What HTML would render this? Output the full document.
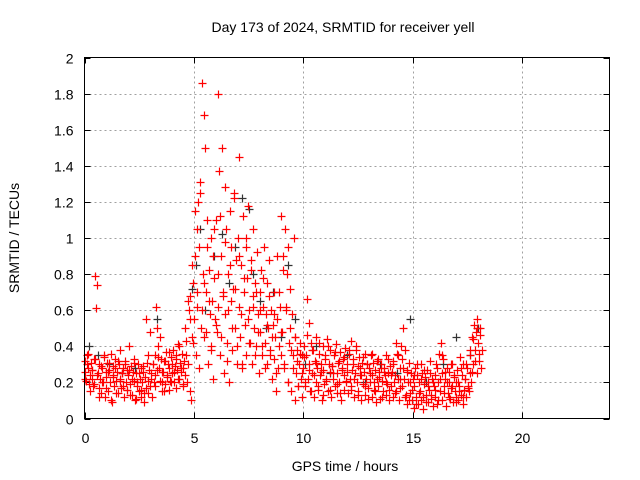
<!DOCTYPE html>
<html><head><meta charset="utf-8"><style>
body{margin:0;background:#fff}
svg{display:block;font-family:"Liberation Sans",sans-serif}
</style></head><body>
<svg id="chart" width="640" height="480">
<rect width="640" height="480" fill="#fff"/>
<text x="343" y="32" font-size="14" text-anchor="middle">Day 173 of 2024, SRMTID for receiver yell</text>
<text x="345" y="471" font-size="14" text-anchor="middle">GPS time / hours</text>
<text transform="translate(19,238) rotate(-90)" font-size="14" text-anchor="middle">SRMTID / TECUs</text>
<g id="grid"></g><g id="ticks"></g><g id="marks"></g>
<rect x="84.5" y="57.5" width="525" height="361" fill="none" stroke="#000"/>
</svg>
<script>
const xTicks=[0,5,10,15,20];
const yTicks=[0,0.2,0.4,0.6,0.8,1,1.2,1.4,1.6,1.8,2];
const redStart=0, redStep=0.04;
const redValues=[0.32,0.26,0.21,0.35,0.28,0.19,0.24,0.31,0.22,0.27,0.18,0.33,0.79,0.61,0.74,0.25,0.17,0.3,0.22,0.14,0.28,0.2,0.34,0.12,0.26,
0.23,0.31,0.15,0.27,0.2,0.36,0.09,0.24,0.29,0.18,0.33,0.21,0.26,0.14,0.3,0.22,0.38,0.17,0.25,0.28,0.12,0.32,0.2,0.27,0.16,
0.24,0.4,0.19,0.29,0.13,0.26,0.21,0.33,0.1,0.25,0.18,0.3,0.15,0.22,0.28,0.12,0.2,0.26,0.09,0.23,0.17,0.31,0.14,0.21,0.27,
0.18,0.25,0.12,0.3,0.2,0.35,0.24,0.62,0.5,0.4,0.28,0.45,0.33,0.2,0.15,0.26,0.32,0.19,0.37,0.23,0.3,0.16,0.28,0.21,0.34,
0.25,0.38,0.2,0.29,0.33,0.17,0.27,0.41,0.22,0.31,0.26,0.36,0.19,0.28,0.32,0.24,0.43,0.2,0.3,0.6,0.15,0.68,0.1,0.45,0.75,
0.55,0.9,0.35,1.05,0.62,1.2,0.28,1.31,0.5,1.86,0.8,1.68,0.45,1.5,0.7,0.95,0.3,0.82,0.58,1.0,0.4,0.65,0.22,0.78,0.55,
1.1,0.48,1.8,0.62,1.37,0.35,0.9,1.5,0.7,0.25,1.28,0.58,1.05,0.42,0.8,0.2,1.15,0.65,0.95,0.38,0.72,1.22,0.5,0.88,0.3,
1.0,0.62,1.45,0.45,0.85,0.28,1.12,0.7,0.52,0.95,0.35,0.78,1.18,0.6,0.42,0.88,0.3,0.68,1.05,0.5,0.75,0.4,0.92,0.58,0.25,
0.7,0.48,0.82,0.35,0.62,0.95,0.42,0.58,0.3,0.75,0.5,0.88,0.38,0.6,0.22,0.52,0.7,0.33,0.45,0.15,0.55,0.28,0.4,0.62,0.35,
1.12,0.48,0.9,0.28,1.05,0.6,0.8,0.2,0.95,0.42,0.72,0.15,0.58,0.35,1.0,0.1,0.45,0.25,0.38,0.18,0.3,0.42,0.22,0.35,0.12,
0.28,0.4,0.18,0.35,0.66,0.22,0.53,0.3,0.15,0.42,0.25,0.38,0.12,0.32,0.2,0.45,0.28,0.16,0.36,0.24,0.3,0.1,0.27,0.4,0.19,
0.33,0.21,0.44,0.15,0.3,0.26,0.38,0.12,0.29,0.22,0.35,0.18,0.41,0.25,0.14,0.31,0.2,0.37,0.1,0.27,0.33,0.16,0.24,0.39,0.21,
0.3,0.14,0.36,0.22,0.43,0.18,0.27,0.33,0.12,0.25,0.38,0.2,0.29,0.15,0.34,0.24,0.1,0.31,0.19,0.26,0.36,0.13,0.22,0.3,0.17,
0.28,0.2,0.35,0.12,0.24,0.31,0.16,0.27,0.09,0.22,0.33,0.18,0.26,0.11,0.3,0.21,0.15,0.28,0.24,0.13,0.35,0.19,0.25,0.1,0.29,
0.18,0.26,0.12,0.32,0.2,0.24,0.15,0.36,0.22,0.1,0.28,0.17,0.4,0.33,0.5,0.22,0.38,0.13,0.27,0.08,0.2,0.31,0.14,0.25,0.1,
0.22,0.06,0.18,0.28,0.12,0.24,0.08,0.2,0.15,0.3,0.1,0.25,0.05,0.19,0.23,0.13,0.27,0.09,0.2,0.16,0.32,0.11,0.22,0.07,0.18,
0.24,0.12,0.3,0.08,0.2,0.36,0.15,0.42,0.25,0.1,0.33,0.18,0.22,0.07,0.28,0.14,0.2,0.26,0.11,0.17,0.3,0.09,0.23,0.15,0.12,
0.2,0.27,0.1,0.18,0.34,0.13,0.24,0.08,0.3,0.16,0.22,0.12,0.28,0.18,0.15,0.25,0.35,0.2,0.45,0.3,0.52,0.38,0.48,0.25,0.55,
0.42,0.32,0.5,0.28,0.38];
const red2Start=0.02, red2Step=0.08;
const red2Values=[0.22,0.3,0.36,0.15,0.27,0.19,0.33,0.24,0.12,0.29,0.2,0.35,0.17,0.26,0.31,0.1,0.23,0.28,0.14,0.32,0.21,0.25,0.18,0.3,0.16,
0.27,0.13,0.22,0.31,0.11,0.2,0.25,0.16,0.29,0.14,0.55,0.35,0.48,0.22,0.3,0.18,0.27,0.34,0.21,0.26,0.15,0.32,0.24,0.37,0.2,
0.3,0.26,0.35,0.22,0.4,0.28,0.18,0.5,0.35,0.65,0.55,0.85,0.42,1.15,0.7,0.95,1.25,0.6,0.75,0.48,1.1,0.65,0.38,0.9,1.05,
0.52,0.8,1.12,0.45,0.68,0.98,0.32,0.6,0.85,0.5,1.25,0.72,0.4,0.9,0.58,0.3,0.78,1.0,0.55,0.42,0.82,0.62,0.35,0.7,0.48,
0.6,0.4,0.78,0.28,0.52,0.68,0.35,0.45,0.58,0.25,0.9,0.7,0.48,0.82,0.3,0.62,0.2,0.5,0.38,0.28,0.45,0.32,0.18,0.36,0.25,
0.34,0.2,0.46,0.27,0.15,0.38,0.24,0.31,0.18,0.42,0.26,0.13,0.35,0.22,0.4,0.16,0.29,0.25,0.37,0.19,0.32,0.14,0.28,0.34,0.2,
0.26,0.38,0.16,0.3,0.22,0.4,0.13,0.28,0.24,0.34,0.18,0.3,0.11,0.25,0.36,0.2,0.15,0.32,0.23,0.28,0.12,0.26,0.2,0.33,0.16,
0.24,0.3,0.14,0.42,0.35,0.22,0.18,0.28,0.12,0.26,0.1,0.2,0.16,0.24,0.08,0.3,0.14,0.22,0.12,0.27,0.09,0.18,0.25,0.13,0.2,
0.16,0.28,0.1,0.22,0.35,0.14,0.26,0.2,0.12,0.3,0.18,0.24,0.09,0.2,0.15,0.28,0.12,0.22,0.3,0.17,0.38,0.26,0.44,0.32,0.5,
0.36,0.46];
const blackTimes=[0.2,0.6,1.1,1.7,2.3,3.3,4.9,5.1,5.3,5.5,5.9,6.3,6.6,6.9,7.2,7.5,7.7,8.0,8.3,8.6,9.0,9.3,9.6,10.1,10.6,11.2,12.0,12.8,13.5,14.3,14.9,15.6,16.4,17.0,17.6,18.0];
const blackValues=[0.4,0.35,0.3,0.25,0.28,0.55,0.72,0.85,1.05,0.6,0.9,1.02,0.75,0.95,1.22,1.16,0.8,0.65,0.5,0.7,0.45,0.85,0.55,0.3,0.4,0.25,0.35,0.2,0.3,0.25,0.55,0.2,0.3,0.45,0.35,0.5];

const X0=84.5,X1=609.5,Y0=418.5,Y1=57.5,XMAX=24,YMAX=2;
const xs=v=>X0+v/XMAX*(X1-X0);
const ys=v=>Y0-v/YMAX*(Y0-Y1);
const NS='http://www.w3.org/2000/svg';
function mk(tag,attrs,parent){const e=document.createElementNS(NS,tag);for(const k in attrs)e.setAttribute(k,attrs[k]);parent.appendChild(e);return e;}
const grid=document.getElementById('grid'),ticks=document.getElementById('ticks'),marks=document.getElementById('marks');
yTicks.forEach(v=>{const y=Math.round(ys(v))+0.5;
 if(v>0&&v<2){const g=mk('line',{x1:X0,x2:X1,y1:y,y2:y,stroke:'#a0a0a0','stroke-dasharray':'2,3'},grid);
 
 }
 mk('line',{x1:X0,x2:X0+6,y1:y,y2:y,stroke:'#000'},ticks);
 mk('line',{x1:X1,x2:X1-6,y1:y,y2:y,stroke:'#000'},ticks);
 const t=mk('text',{x:X0-11,y:y+5,'font-size':'14','text-anchor':'end'},ticks);t.textContent=String(v);
 
 });
xTicks.forEach(v=>{const x=Math.round(xs(v))+0.5;
 if(v>0){const g=mk('line',{x1:x,x2:x,y1:Y0,y2:Y1,stroke:'#a0a0a0','stroke-dasharray':'2,3'},grid);
 
 }
 mk('line',{x1:x,x2:x,y1:Y0,y2:Y0-6,stroke:'#000'},ticks);
 mk('line',{x1:x,x2:x,y1:Y1,y2:Y1+6,stroke:'#000'},ticks);
 const t=mk('text',{x:x,y:443,'font-size':'14','text-anchor':'middle'},ticks);t.textContent=String(v);
 
 });
function plus(t,v,col,name){const x=Math.round(xs(t))+0.5,y=Math.round(ys(v))+0.5;
 const p=mk('path',{d:`M${x-4} ${y}H${x+4}M${x} ${y-4}V${y+4}`,stroke:col,'stroke-width':'1.2',fill:'none'},marks);
 
 }
blackTimes.forEach((t,i)=>plus(t,blackValues[i],'#333','black-point'));
redValues.forEach((v,i)=>plus(redStart+i*redStep,v,'#f00','red-point'));
red2Values.forEach((v,i)=>plus(red2Start+i*red2Step,v,'#f00','red-point'));
</script>
</body></html>
